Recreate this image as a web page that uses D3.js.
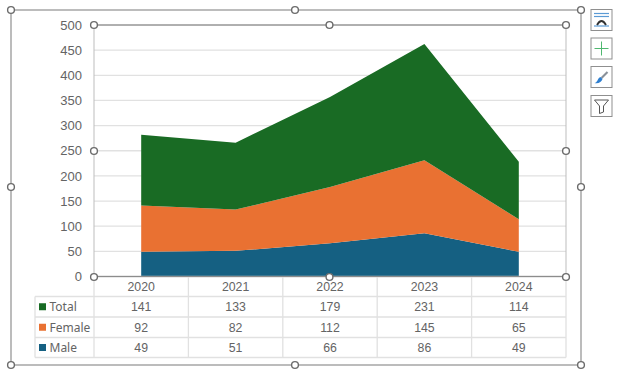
<!DOCTYPE html>
<html>
<head>
<meta charset="utf-8">
<script src="https://cdn.jsdelivr.net/npm/d3@7"></script>
<style>
  html, body { margin: 0; padding: 0; background: white; }
  svg { display: block; }
  text { font-family: "Liberation Sans", Arial, sans-serif; fill: #646464; }
</style>
</head>
<body>
<div id="container"></div>
<script>
let w = 624;
let h = 373;

// DATA
let years = ["2020", "2021", "2022", "2023", "2024"];
let male = [49, 51, 66, 86, 49];
let female = [92, 82, 112, 145, 65];
let total = [141, 133, 179, 231, 114];
let yTicks = [0, 50, 100, 150, 200, 250, 300, 350, 400, 450, 500];

let seriesNames = ["Total", "Female", "Male"];
let seriesValues = { Total: total, Female: female, Male: male };
let seriesColors = { Total: "#196b24", Female: "#e97132", Male: "#156082" };

let plot = { left: 94, right: 566, top: 25, bottom: 276.5 };
let rowEdges = [276.5, 296.5, 317, 337.5, 357.5];
let tableLeft = 35;
let gridColor = "#e1e1e1";

let viz = d3.select("#container").append("svg")
    .attr("width", w)
    .attr("height", h)
    .style("background-color", "white");

// SCALES
let xScale = d3.scaleBand().domain(years).range([plot.left, plot.right]);
let yScale = d3.scaleLinear().domain([0, 500]).range([plot.bottom, plot.top]);
let xCenter = function(year){ return xScale(year) + xScale.bandwidth() / 2; };

// GRIDLINES + Y AXIS
let yAxis = d3.axisLeft(yScale).tickValues(yTicks).tickSize(0).tickPadding(12);
let yAxisGroup = viz.append("g")
    .attr("transform", "translate(" + plot.left + ",0)")
    .call(yAxis);
yAxisGroup.select(".domain").remove();
yAxisGroup.selectAll("text")
    .style("font-size", "13px")
    .style("font-family", "'Liberation Sans', Arial, sans-serif");

viz.selectAll(".gridline").data(yTicks).enter()
  .append("line")
    .attr("class", "gridline")
    .attr("x1", plot.left)
    .attr("x2", plot.right)
    .attr("y1", function(d){ return yScale(d); })
    .attr("y2", function(d){ return yScale(d); })
    .attr("stroke", gridColor)
    .attr("stroke-width", 1.3);

// STACKED AREAS (Male at the bottom)
let rows = years.map(function(year, i){
  return { year: year, Male: male[i], Female: female[i], Total: total[i] };
});
let stacked = d3.stack().keys(["Male", "Female", "Total"])(rows);
let areaMaker = d3.area()
    .x(function(d){ return xCenter(d.data.year); })
    .y0(function(d){ return yScale(d[0]); })
    .y1(function(d){ return yScale(d[1]); });

viz.selectAll(".layer").data(stacked).enter()
  .append("path")
    .attr("class", "layer")
    .attr("d", areaMaker)
    .attr("fill", function(d){ return seriesColors[d.key]; });

// DATA TABLE
let table = viz.append("g");
let columnEdges = [plot.left].concat(years.map(function(year){
  return xScale(year) + xScale.bandwidth();
}));

// horizontal rules
table.selectAll(".row-rule").data(rowEdges).enter()
  .append("line")
    .attr("class", "row-rule")
    .attr("x1", function(d, i){ return i == 0 ? plot.left : tableLeft; })
    .attr("x2", plot.right)
    .attr("y1", function(d){ return d; })
    .attr("y2", function(d){ return d; })
    .attr("stroke", gridColor)
    .attr("stroke-width", 1.3);
table.select(".row-rule").attr("stroke", "#bfbfbf");

// vertical rules
table.selectAll(".col-rule").data(columnEdges).enter()
  .append("line")
    .attr("class", "col-rule")
    .attr("x1", function(d){ return d; })
    .attr("x2", function(d){ return d; })
    .attr("y1", rowEdges[0])
    .attr("y2", rowEdges[4])
    .attr("stroke", gridColor)
    .attr("stroke-width", 1.3);
table.append("line")
    .attr("x1", tableLeft)
    .attr("x2", tableLeft)
    .attr("y1", rowEdges[1])
    .attr("y2", rowEdges[4])
    .attr("stroke", gridColor)
    .attr("stroke-width", 1.3);

// year labels
table.selectAll(".year-label").data(years).enter()
  .append("text")
    .attr("class", "year-label")
    .attr("x", function(d){ return xCenter(d); })
    .attr("y", (rowEdges[0] + rowEdges[1]) / 2)
    .attr("dy", "0.36em")
    .attr("text-anchor", "middle")
    .style("font-size", "12.3px")
    .text(function(d){ return d; });

// series rows
seriesNames.forEach(function(name, r){
  let mid = (rowEdges[r + 1] + rowEdges[r + 2]) / 2;
  table.append("rect")
      .attr("x", 39)
      .attr("y", mid - 3.5)
      .attr("width", 7)
      .attr("height", 7)
      .attr("fill", seriesColors[name]);
  table.append("text")
      .attr("x", 49.5)
      .attr("y", mid)
      .attr("dy", "0.36em")
      .style("font-size", "12px")
      .style("font-family", "'Noto Sans', sans-serif")
      .text(name);
  table.selectAll(".cell-" + name).data(seriesValues[name]).enter()
    .append("text")
      .attr("class", "cell-" + name)
      .attr("x", function(d, i){ return xCenter(years[i]); })
      .attr("y", mid)
      .attr("dy", "0.36em")
      .attr("text-anchor", "middle")
      .style("font-size", "12.3px")
      .text(function(d){ return d; });
});

// SELECTION FRAMES + HANDLES (the editor's chrome around the chart)
let outer = { left: 11, right: 581, top: 10, bottom: 365 };
viz.append("rect")
    .attr("x", outer.left)
    .attr("y", outer.top)
    .attr("width", outer.right - outer.left)
    .attr("height", outer.bottom - outer.top)
    .attr("fill", "none")
    .attr("stroke", "#a6a6a6")
    .attr("stroke-width", 1.5);
viz.append("rect")
    .attr("x", plot.left)
    .attr("y", plot.top)
    .attr("width", plot.right - plot.left)
    .attr("height", plot.bottom - plot.top)
    .attr("fill", "none")
    .attr("stroke", "#bdbdbd")
    .attr("stroke-width", 1);
viz.append("line")
    .attr("x1", plot.left).attr("x2", plot.right)
    .attr("y1", plot.top).attr("y2", plot.top)
    .attr("stroke", "#8c8c8c");
viz.append("line")
    .attr("x1", plot.left).attr("x2", plot.right)
    .attr("y1", plot.bottom).attr("y2", plot.bottom)
    .attr("stroke", "#8c8c8c");

let handles = [
  [11, 10], [295, 10], [581, 10], [11, 187], [581, 187], [11, 365], [295, 365], [581, 365],
  [94, 25], [329.5, 25], [566, 25], [94, 151], [566, 151], [94, 277], [329.5, 277], [566, 277]
];
viz.selectAll(".handle").data(handles).enter()
  .append("circle")
    .attr("class", "handle")
    .attr("cx", function(d){ return d[0]; })
    .attr("cy", function(d){ return d[1]; })
    .attr("r", 3.4)
    .attr("fill", "white")
    .attr("stroke", "#6b6b6b")
    .attr("stroke-width", 1.4);

// SIDE BUTTONS
let buttonTops = [9.5, 38, 66.5, 95.5];
viz.selectAll(".button").data(buttonTops).enter()
  .append("rect")
    .attr("class", "button")
    .attr("x", 591)
    .attr("y", function(d){ return d; })
    .attr("width", 21)
    .attr("height", 21)
    .attr("fill", "white")
    .attr("stroke", "#8f8f8f")
    .attr("stroke-width", 1);

// chart elements icon
let icon1 = viz.append("g").attr("transform", "translate(591,10)");
[3.5, 6.5, 16].forEach(function(y){
  icon1.append("line").attr("x1", 3).attr("x2", 18).attr("y1", y).attr("y2", y)
      .attr("stroke", "#5b9bd5").attr("stroke-width", 1.2);
});
icon1.append("path").attr("d", "M6,15 Q10.5,7 15,15")
    .attr("fill", "none").attr("stroke", "#333").attr("stroke-width", 1.8);

// plus icon
let icon2 = viz.append("g").attr("transform", "translate(591.5,38.5)");
icon2.append("path").attr("d", "M10,3V17M3,10H17")
    .attr("stroke", "#4fb870").attr("stroke-width", 1).attr("fill", "none");

// brush icon
let icon3 = viz.append("g").attr("transform", "translate(591.5,67)");
icon3.append("path").attr("d", "M10,11L16,5").attr("stroke", "#8a9199").attr("stroke-width", 2.2);
icon3.append("path").attr("d", "M3,16C6,16 6,11 9,10L11,12C10,15 7,17 3,16Z").attr("fill", "#2f7fd0");

// filter icon
let icon4 = viz.append("g").attr("transform", "translate(591.5,96)");
icon4.append("path").attr("d", "M3,4H17L12,10V16L8,17.5V10Z")
    .attr("fill", "white").attr("stroke", "#555").attr("stroke-width", 1);
</script>
</body>
</html>
